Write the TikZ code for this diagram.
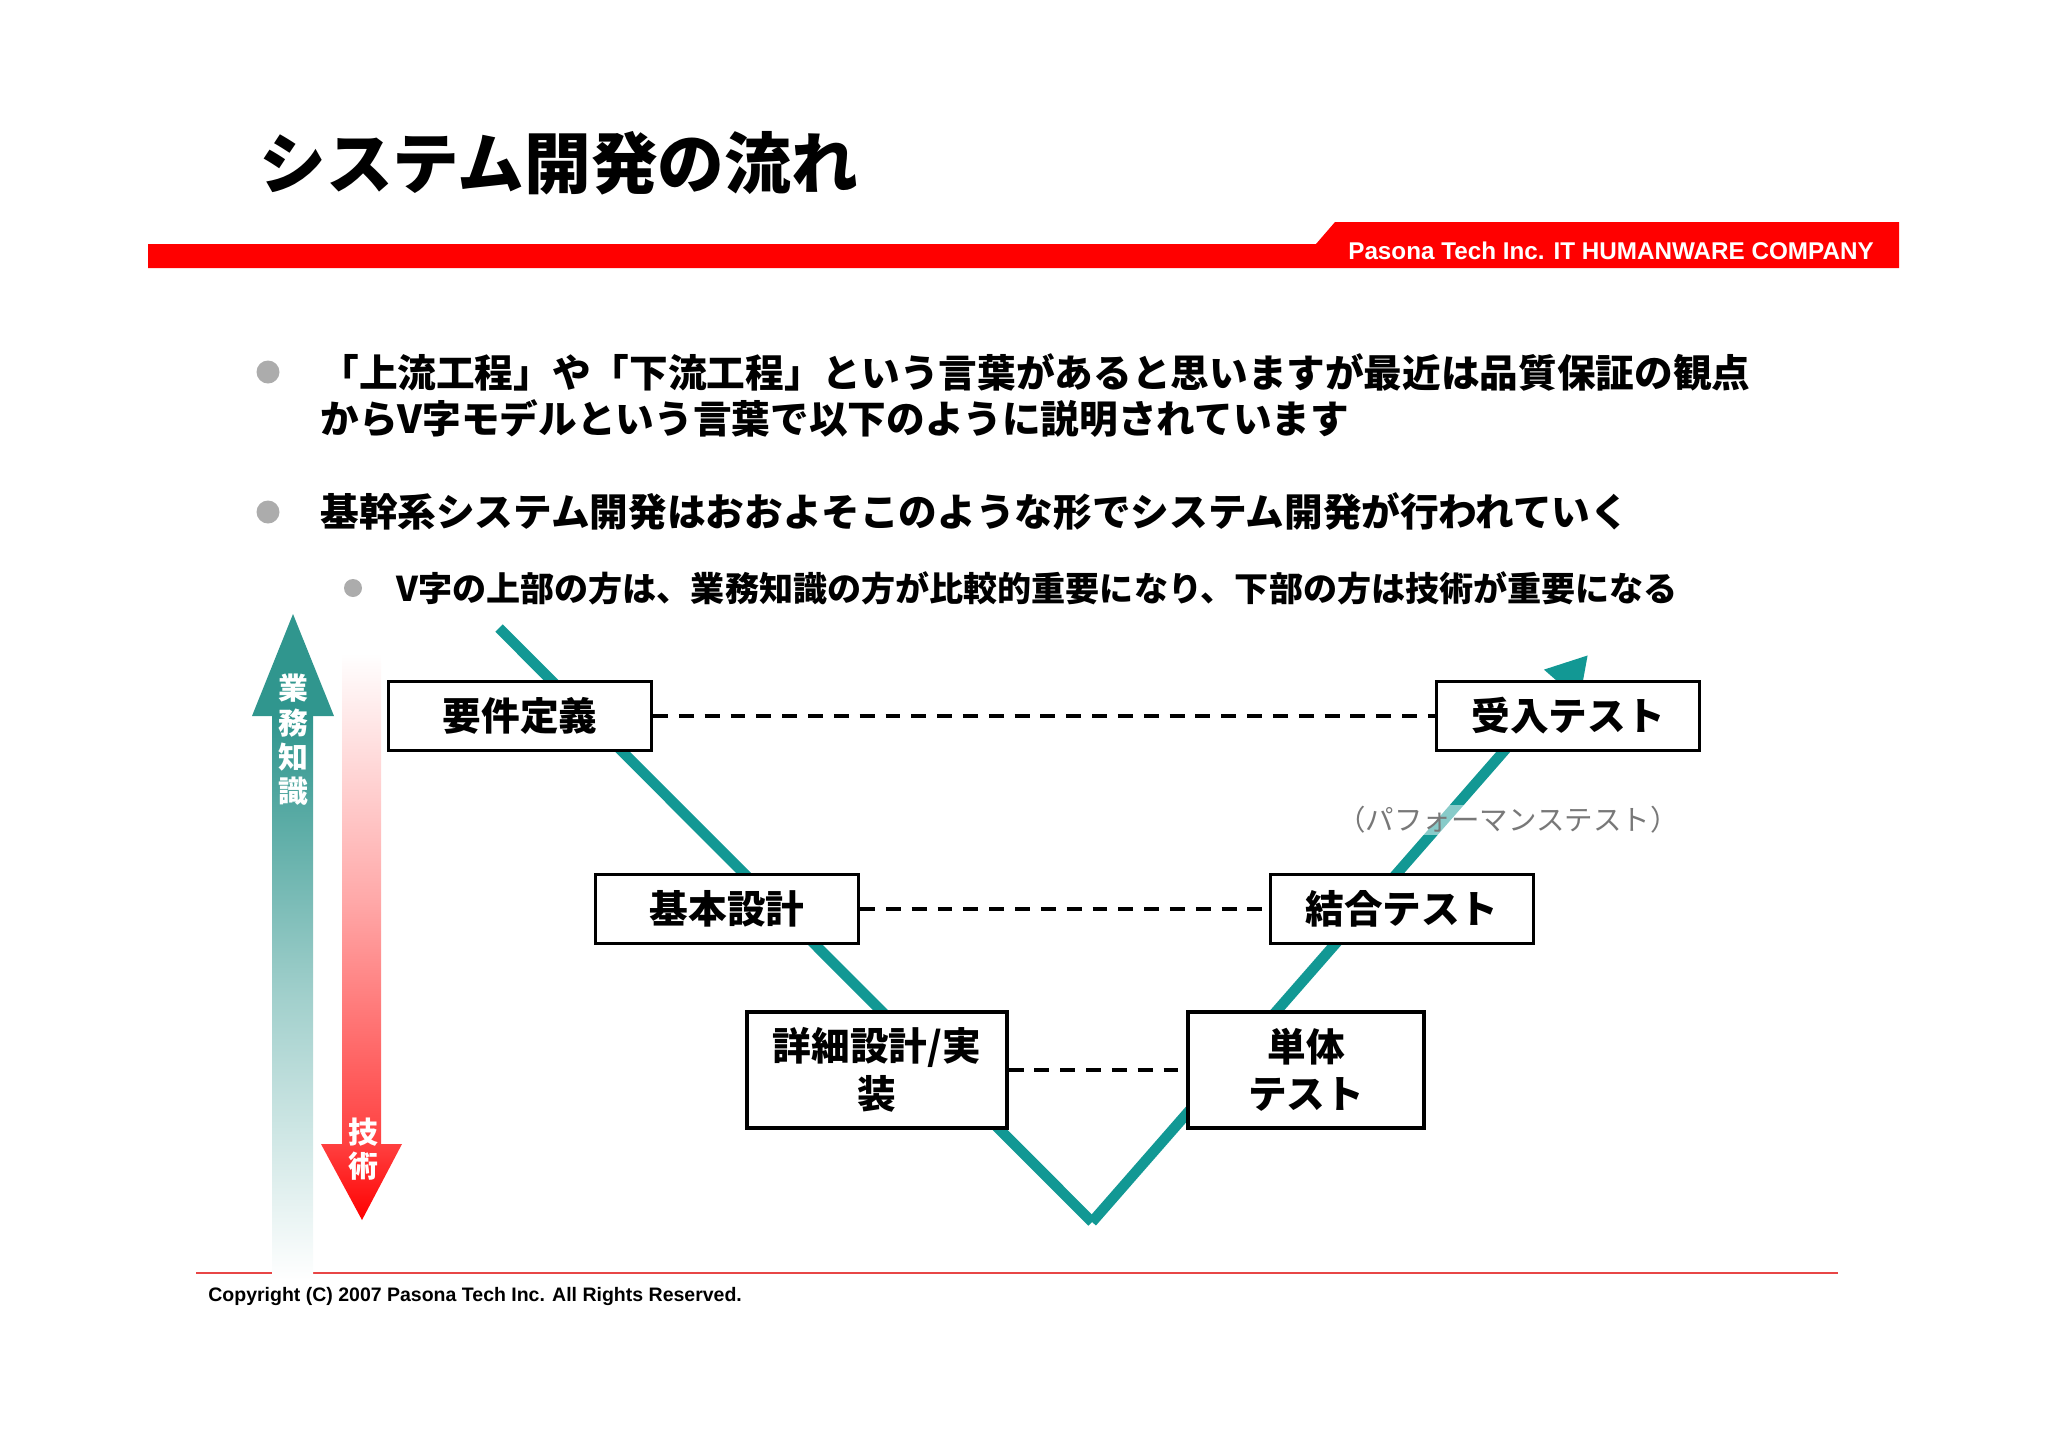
\documentclass[tikz,border=0pt]{standalone}
\usepackage{fontspec}
\setmainfont{Noto Sans CJK JP}
\newfontfamily\arialf{Liberation Sans}
\usepackage{xcolor}
\usetikzlibrary{arrows.meta, positioning, calc}

\definecolor{vteal}{RGB}{18,152,148}
\definecolor{kteal}{RGB}{48,150,142}
\definecolor{hred}{RGB}{255,0,0}
\definecolor{tred}{RGB}{255,64,64}
\definecolor{lred}{RGB}{232,70,70}
\definecolor{bulgray}{RGB}{172,172,172}
\definecolor{notegray}{RGB}{120,120,120}

\begin{document}
\begin{tikzpicture}[x=0.02cm, y=-0.02cm,
  phase/.style  = {draw=black, fill=white, line width=1.8pt,
                   minimum width=5.26cm, minimum height=1.38cm,
                   inner sep=0pt, align=center,
                   font=\bfseries\fontsize{22}{27}\selectfont},
  pairline/.style = {line width=2.2pt, dash pattern=on 8.5pt off 6.2pt},
  vline/.style  = {draw=vteal, line width=6pt},
  dot/.style    = {circle, fill=bulgray, inner sep=0pt},
  btext/.style  = {anchor=west, inner sep=0pt, align=left,
                   font=\bfseries\fontsize{22}{26.7}\selectfont},
  vlabel/.style = {inner sep=0pt, align=center, text=white,
                   font=\bfseries\fontsize{17}{19.6}\selectfont},
]
\useasboundingbox (0,0) rectangle (2048,1448);

%% ── title and red header bar ───────────────────────────────────────────────
\node[anchor=west, inner sep=0pt, font=\bfseries\fontsize{38}{40}\selectfont]
  (title) at (259,163) {システム開発の流れ};

\fill[hred] (148,244) -- (1316,244) -- (1335,222) -- (1899,222)
  -- (1899,268) -- (148,268) -- cycle;
\node[text=white, inner sep=0pt, font=\arialf\bfseries\fontsize{13.8}{15}\selectfont]
  (company) at (1611,251) {Pasona Tech Inc. IT HUMANWARE COMPANY};

%% ── bullets ─────────────────────────────────────────────────────────────────
\node[dot, minimum size=0.46cm] (b1) at (268,372) {};
\node[btext] (t1) at (320,395.5)
  {「上流工程」や「下流工程」という言葉があると思いますが最近は品質保証の観点\\
   からV字モデルという言葉で以下のように説明されています};

\node[dot, minimum size=0.46cm] (b2) at (268,512) {};
\node[btext] (t2) at (320,512)
  {基幹系システム開発はおおよそこのような形でシステム開発が行われていく};

\node[dot, minimum size=0.36cm] (b3) at (353,588) {};
\node[btext, font=\bfseries\fontsize{19.4}{22}\selectfont] (t3) at (396,588)
  {V字の上部の方は、業務知識の方が比較的重要になり、下部の方は技術が重要になる};

%% ── footer ──────────────────────────────────────────────────────────────────
\draw[lred, line width=1.1pt] (196,1273) -- (1838,1273);
\node[anchor=west, inner sep=0pt, font=\arialf\bfseries\fontsize{11.1}{13}\selectfont]
  (copy) at (208,1296) {Copyright (C) 2007 Pasona Tech Inc. All Rights Reserved.};

%% ── knowledge / skill arrows ────────────────────────────────────────────────
\shade[top color=kteal, bottom color=white, middle color=kteal!45]
  (272,716) rectangle (313,1280);
\fill[kteal] (293,614) -- (334,716) -- (252,716) -- cycle;
\node[vlabel] (gyomu) at (293,740) {業\\務\\知\\識};

\shade[top color=white, bottom color=tred, middle color=tred!45]
  (342,653) rectangle (381,1144);
\shade[top color=tred, bottom color=hred]
  (321,1144) -- (402,1144) -- (362,1220) -- cycle;
\node[vlabel] (gijutsu) at (363,1149) {技\\術};

%% ── V model ─────────────────────────────────────────────────────────────────
\coordinate (vtop)    at (499,628);
\coordinate (vbottom) at (1092,1222);
\coordinate (vtip)    at (1588,655);
\draw[vline] (vtop) -- (vbottom);
\draw[vline, -{Triangle[length=0.8cm, width=0.88cm]}] (vbottom) -- (vtip);

\node[phase] (req)    at (520,716)  {要件定義};
\node[phase] (accept) at (1568,716) {受入テスト};
\node[phase] (basic)  at (727,909)  {基本設計};
\node[phase] (integ)  at (1402,909) {結合テスト};
\node[phase, minimum width=5.2cm, minimum height=2.32cm] (detail) at (877,1070)
  {詳細設計/実\\装};
\node[phase, minimum width=4.72cm, minimum height=2.32cm] (unit) at (1306,1070)
  {単体\\テスト};

\draw[pairline] (req.east)    -- (accept.west);
\draw[pairline] (basic.east)  -- (integ.west);
\draw[pairline] (detail.east) -- (unit.west);

\node[fill=white, fill opacity=0.5, text opacity=1, text=notegray,
      inner sep=1pt, font=\fontsize{16.2}{18}\selectfont]
  (perf) at (1508,820) {（パフォーマンステスト）};

\end{tikzpicture}
\end{document}
